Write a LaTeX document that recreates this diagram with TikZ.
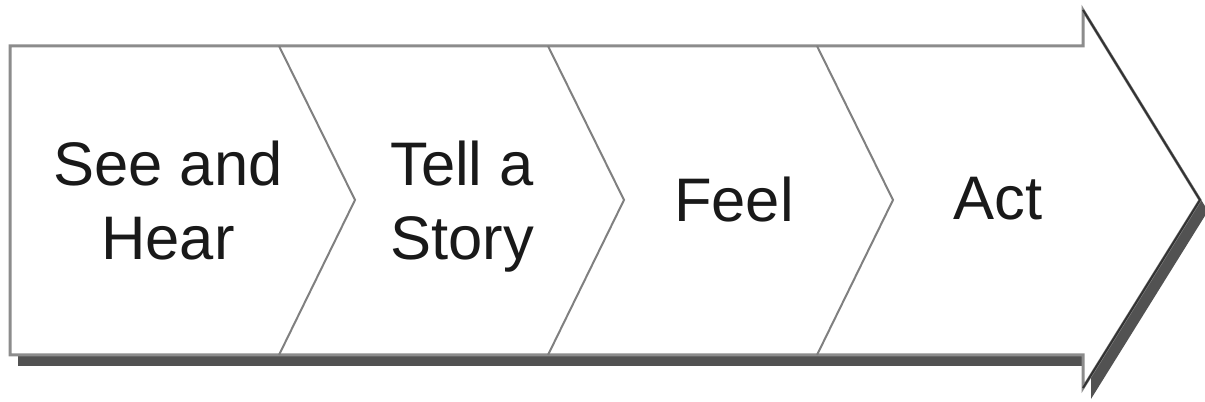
\documentclass[tikz,border=0pt]{standalone}
\usepackage{fontspec}
\setmainfont{Liberation Sans}
\tikzset{
    stage/.style={font=\fontsize{17.5}{21}\selectfont, text=black!90, align=center, inner sep=0pt, anchor=north},
    bigarrow/.style={draw=black!45, fill=white, line width=0.3mm, line join=miter},
    shade/.style={fill=black!68},
    headedge/.style={draw=black!80, line width=0.2mm},
    divider/.style={draw=black!50, line width=0.2mm}
}

\begin{document}
\begin{tikzpicture}[x=0.1mm, y=-0.1mm]
    \useasboundingbox (0,0) rectangle (1205,402);
    % shadow under the arrow
    \fill[shade, shift={(8,11)}] (10,46) -- (1083,46) -- (1083,10) -- (1200,200) -- (1083,388) -- (1083,355) -- (10,355) -- cycle;
    % the arrow itself
    \draw[bigarrow] (10,46) -- (1083,46) -- (1083,10) -- (1200,200) -- (1083,388) -- (1083,355) -- (10,355) -- cycle;
    \draw[headedge] (1083,10) -- (1200,200) -- (1083,388);
    \foreach \x in {279,548,817}
        \draw[divider] (\x,46) -- (\x+76,200) -- (\x,355);
    % stages
    \node (see) [stage] at (168,140) {See and\\Hear};
    \node (tell) [stage] at (462,140) {Tell a\\Story};
    \node (feel) [stage] at (734,176) {Feel};
    \node (act) [stage] at (998,176) {Act};
\end{tikzpicture}
\end{document}
